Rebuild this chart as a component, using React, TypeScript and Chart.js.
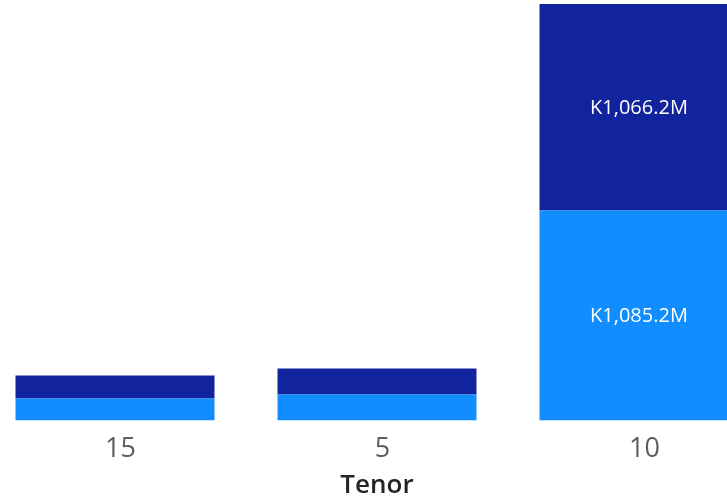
import React, { useEffect, useRef } from "react";
import { Chart, registerables } from "chart.js";

Chart.register(...registerables);

const categories = ["15", "5", "10"];
const lowerValues = [114, 134, 1085.2];
const upperValues = [119, 134, 1066.2];
const seriesNames = ["Series A", "Series B"];
const axisTitle = "Tenor";

const FONT = "'Segoe UI', 'Open Sans', 'Noto Sans', sans-serif";

const fmt = (v: number) =>
  "K" + v.toLocaleString("en-US", { minimumFractionDigits: 1, maximumFractionDigits: 1 }) + "M";

const labelPlugin = {
  id: "segLabels",
  afterDatasetsDraw(chart: any) {
    const ctx = chart.ctx;
    ctx.save();
    ctx.fillStyle = "#FFFFFF";
    ctx.font = `20px ${FONT}`;
    ctx.textAlign = "center";
    ctx.textBaseline = "middle";
    chart.data.datasets.forEach((ds: any, di: number) => {
      const meta = chart.getDatasetMeta(di);
      meta.data.forEach((bar: any, i: number) => {
        const h = Math.abs(bar.base - bar.y);
        if (h < 40) return;
        ctx.fillText(fmt(ds.data[i]), bar.x, (bar.y + bar.base) / 2 + 1);
      });
    });
    ctx.restore();
  },
};

export default function App() {
  const ref = useRef<HTMLCanvasElement | null>(null);
  useEffect(() => {
    if (!ref.current) return;
    const chart = new Chart(ref.current, {
      type: "bar",
      data: {
        labels: categories,
        datasets: [
          {
            label: seriesNames[0],
            data: lowerValues,
            backgroundColor: "#118DFF",
            categoryPercentage: 1,
            barPercentage: 0.7595,
          },
          {
            label: seriesNames[1],
            data: upperValues,
            backgroundColor: "#12239E",
            categoryPercentage: 1,
            barPercentage: 0.7595,
          },
        ],
      },
      options: {
        animation: false,
        responsive: true,
        maintainAspectRatio: false,
        layout: { padding: 0 },
        plugins: { legend: { display: false }, tooltip: { enabled: false } },
        scales: {
          x: {
            stacked: true,
            grid: { display: false, drawTicks: false, tickLength: 0 },
            border: { display: false },
            afterFit: (scale: any) => {
              scale.height = 78.5;
            },
            ticks: {
              color: "#605E5C",
              font: { family: FONT, size: 27 },
              padding: 13,
              labelOffset: 5.5,
            },
            title: {
              display: true,
              text: axisTitle,
              color: "#252423",
              font: { family: FONT, size: 26, weight: 600 },
              padding: { top: 0, bottom: -2 },
            },
          },
          y: {
            stacked: true,
            display: false,
            min: 0,
            max: 2172,
          },
        },
      },
      plugins: [labelPlugin],
    });
    return () => chart.destroy();
  }, []);
  return (
    <div style={{ position: "absolute", left: 0, top: 0, width: 727, height: 499, overflow: "hidden", background: "#fff" }}>
      <div style={{ position: "absolute", left: -16.5, top: 0, width: 786, height: 499 }}>
        <canvas ref={ref} />
      </div>
    </div>
  );
}
